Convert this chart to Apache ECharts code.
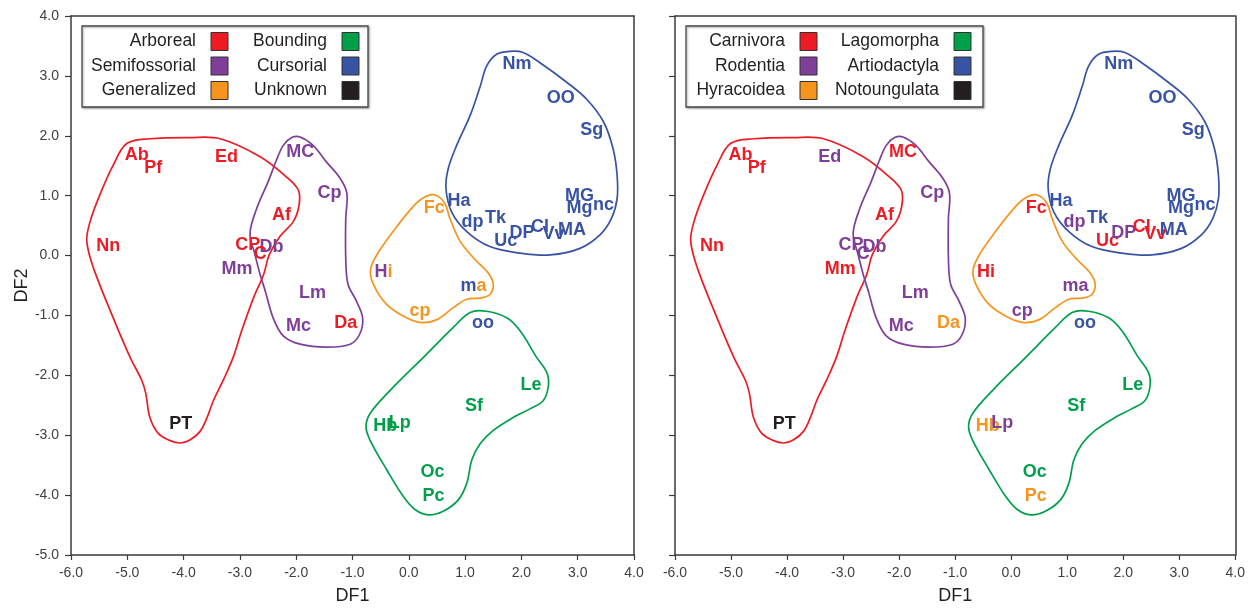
<!DOCTYPE html>
<html>
<head>
<meta charset="utf-8">
<script src="https://cdn.jsdelivr.net/npm/echarts@6/dist/echarts.min.js"></script>
<style>
  html, body { margin: 0; padding: 0; background: #ffffff; }
  #chart { width: 1248px; height: 610px; }
</style>
</head>
<body>
<div id="chart"></div>
<script>
// ---------- data ----------
const labels = ['Ab','Pf','Ed','MC','Cp','Af','Nn','CP','Db','C','Mm','Lm','Mc','Da','PT',
  'Nm','OO','Sg','MG','Mg','nc','Ha','Fc','dp','Tk','Uc','DP','Cl','Vv','MA',
  'Hi','ma','cp','oo','Le','Sf','Hb','Lp','Oc','Pc'];
const df1 = [-4.83,-4.54,-3.24,-1.93,-1.41,-2.26,-5.34,-2.86,-2.44,-2.64,-3.05,-1.71,-1.96,-1.12,-4.05,
  1.92,2.70,3.25,3.03,3.03,3.46,0.89,0.45,1.13,1.54,1.72,2.01,2.33,2.57,2.90,
  -0.45,1.15,0.20,1.32,2.17,1.16,-0.42,-0.16,0.42,0.44];
const df2 = [1.68,1.46,1.65,1.73,1.05,0.67,0.16,0.17,0.15,0.03,-0.22,-0.62,-1.17,-1.12,-2.81,
  3.19,2.63,2.10,1.00,0.79,0.84,0.91,0.80,0.56,0.62,0.24,0.37,0.48,0.36,0.43,
  -0.27,-0.51,-0.93,-1.12,-2.17,-2.52,-2.85,-2.79,-3.62,-4.02];
// colour group per label: left panel = locomotion, right panel = order ("a|b" = first letter a, rest b)
const locomotionGroup = [0,0,0,1,1,0,0,0,1,0,1,1,1,0,5,
  4,4,4,4,4,4,4,2,4,4,4,4,4,4,4,
  '1|2','4|2',2,4,3,3,3,3,3,3];
const orderGroup = [0,0,1,0,1,0,0,1,1,1,0,1,1,2,5,
  4,4,4,4,4,4,4,0,1,4,0,1,0,0,4,
  0,1,1,4,3,3,2,1,3,2];
const locomotionNames = ['Arboreal','Semifossorial','Generalized','Bounding','Cursorial','Unknown'];
const orderNames = ['Carnivora','Rodentia','Hyracoidea','Lagomorpha','Artiodactyla','Notoungulata'];
const palette = ['#ED1C24','#7F3F98','#F7941D','#00A04B','#3953A4','#231F20'];
const xRange = [-6, 4];
const yRange = [-5, 4];

// hull outlines (DF1, DF2)
const hullRed = [[-5.01,1.87],[-4.60,1.95],[-3.89,1.97],[-3.35,1.95],[-2.64,1.65],[-2.17,1.31],[-1.96,1.09],
  [-1.95,0.84],[-2.05,0.57],[-2.29,0.32],[-2.48,0.01],[-2.58,-0.32],[-2.76,-0.71],[-2.97,-1.26],[-3.12,-1.70],
  [-3.30,-2.09],[-3.47,-2.42],[-3.59,-2.72],[-3.71,-2.94],[-3.89,-3.08],[-4.06,-3.13],[-4.24,-3.09],[-4.45,-2.97],
  [-4.60,-2.70],[-4.67,-2.31],[-4.74,-2.09],[-4.95,-1.70],[-5.25,-1.04],[-5.60,-0.21],[-5.72,0.24],[-5.66,0.57],
  [-5.49,1.01],[-5.25,1.51]];
const hullPurple = [[-2.82,0.37],[-2.70,0.79],[-2.50,1.23],[-2.36,1.57],[-2.23,1.84],[-2.08,1.97],[-1.93,1.98],
  [-1.70,1.84],[-1.46,1.56],[-1.22,1.29],[-1.10,1.04],[-1.12,0.62],[-1.12,-0.04],[-1.08,-0.48],[-0.93,-0.76],
  [-0.82,-1.04],[-0.87,-1.31],[-1.04,-1.48],[-1.46,-1.53],[-1.93,-1.48],[-2.23,-1.34],[-2.41,-1.04],[-2.55,-0.59],
  [-2.64,-0.32],[-2.73,0.01]];
const hullOrange = [[0.47,1.01],[0.64,0.87],[0.73,0.62],[0.91,0.24],[1.15,-0.04],[1.41,-0.29],[1.50,-0.48],
  [1.44,-0.65],[1.27,-0.71],[1.03,-0.73],[0.79,-0.87],[0.50,-1.07],[0.23,-1.12],[-0.04,-1.04],[-0.39,-0.82],
  [-0.63,-0.48],[-0.68,-0.24],[-0.57,0.01],[-0.28,0.40],[0.08,0.82],[0.29,0.98]];
const hullBlue = [[1.56,3.36],[1.80,3.41],[2.03,3.39],[2.33,3.22],[2.81,2.89],[3.16,2.61],[3.46,2.23],
  [3.63,1.78],[3.70,1.34],[3.70,0.95],[3.60,0.62],[3.40,0.35],[3.04,0.12],[2.51,0.01],[1.98,0.04],[1.44,0.15],
  [1.03,0.40],[0.76,0.73],[0.66,1.12],[0.70,1.45],[0.85,1.84],[1.09,2.34],[1.27,2.83],[1.38,3.16]];
const hullGreen = [[1.38,-0.93],[1.74,-1.04],[1.98,-1.26],[2.27,-1.70],[2.45,-1.95],[2.48,-2.17],[2.39,-2.42],
  [2.15,-2.56],[1.86,-2.70],[1.50,-2.92],[1.27,-3.14],[1.12,-3.41],[1.03,-3.80],[0.88,-4.08],[0.61,-4.27],
  [0.35,-4.33],[0.11,-4.24],[-0.10,-4.02],[-0.39,-3.58],[-0.69,-3.08],[-0.76,-2.86],[-0.69,-2.64],[-0.33,-2.25],
  [0.26,-1.70],[0.79,-1.20],[1.09,-0.95]];
const hulls = [[hullRed,0],[hullPurple,1],[hullOrange,2],[hullBlue,4],[hullGreen,3]];

// ---------- chart ----------
const FONT = "'Liberation Sans', Arial, sans-serif";
const AXC = '#3a3a3a';
const chart = echarts.init(document.getElementById('chart'), null, {renderer: 'canvas'});

const rich = {};
palette.forEach((c, i) => {
  rich['g' + i] = {color: c, fontFamily: FONT, fontWeight: 'bold', fontSize: 18,
    textBorderWidth: 0, opacity: 1};
});

function labelText(name, grp) {
  const g = String(grp);
  if (g.indexOf('|') >= 0) {
    const [a, b] = g.split('|');
    return '{g' + a + '|' + name.charAt(0) + '}{g' + b + '|' + name.slice(1) + '}';
  }
  return '{g' + g + '|' + name + '}';
}

const grids = [
  {left: 71, top: 16, width: 563, height: 543},
  {left: 675, top: 16, width: 563, height: 543}
];

const xAxes = [], yAxes = [];
[0, 1].forEach(i => {
  xAxes.push({
    type: 'value', gridIndex: i, min: xRange[0], max: xRange[1], interval: 1,
    name: 'DF1', nameLocation: 'middle', nameGap: 32,
    nameTextStyle: {fontFamily: FONT, fontSize: 18, color: '#231F20'},
    axisLine: {show: true, onZero: false, lineStyle: {color: AXC, width: 1.5}},
    axisTick: {show: true, length: 5, lineStyle: {color: AXC, width: 1.2}},
    axisLabel: {fontFamily: FONT, fontSize: 14, color: '#404040', margin: 11,
      formatter: v => v.toFixed(1)},
    splitLine: {show: false}
  });
  xAxes.push({
    type: 'value', gridIndex: i, position: 'top', min: xRange[0], max: xRange[1],
    axisLine: {show: true, onZero: false, lineStyle: {color: AXC, width: 1.5}},
    axisTick: {show: false}, axisLabel: {show: false}, splitLine: {show: false}
  });
  yAxes.push({
    type: 'value', gridIndex: i, min: yRange[0], max: yRange[1], interval: 1,
    name: i === 0 ? 'DF2' : '', nameLocation: 'middle', nameGap: 40,
    nameTextStyle: {fontFamily: FONT, fontSize: 18, color: '#231F20'},
    axisLine: {show: true, onZero: false, lineStyle: {color: AXC, width: 1.5}},
    axisTick: {show: true, length: 6, lineStyle: {color: AXC, width: 1.2}},
    axisLabel: {show: i === 0, fontFamily: FONT, fontSize: 14, color: '#404040', margin: 12,
      formatter: v => v.toFixed(1)},
    splitLine: {show: false}
  });
  yAxes.push({
    type: 'value', gridIndex: i, position: 'right', min: yRange[0], max: yRange[1],
    axisLine: {show: true, onZero: false, lineStyle: {color: AXC, width: 1.5}},
    axisTick: {show: false}, axisLabel: {show: false}, splitLine: {show: false}
  });
});

const series = [];
[0, 1].forEach(i => {
  hulls.forEach(([pts, col]) => {
    series.push({
      type: 'custom', coordinateSystem: 'cartesian2d',
      xAxisIndex: i * 2, yAxisIndex: i * 2, silent: true, z: 2,
      data: [[pts[0][0], pts[0][1]]],
      renderItem: (params, api) => ({
        type: 'polygon',
        shape: {points: pts.map(p => api.coord(p)), smooth: 0.35},
        style: {fill: 'none', stroke: palette[col], lineWidth: 1.7}
      })
    });
  });
  const groups = i === 0 ? locomotionGroup : orderGroup;
  series.push({
    type: 'scatter', xAxisIndex: i * 2, yAxisIndex: i * 2, silent: true, z: 5,
    symbolSize: 1, itemStyle: {color: 'rgba(0,0,0,0)', opacity: 1},
    data: labels.map((n, k) => ({value: [df1[k], df2[k]], name: n, grp: groups[k]})),
    label: {
      show: true, position: 'inside', opacity: 1, textBorderWidth: 0,
      formatter: p => labelText(p.data.name, p.data.grp),
      rich: rich
    },
    emphasis: {disabled: true}
  });
});

// legends
function legendGraphics(names, boxLeft, boxWidth, col1Right, col2Right) {
  const els = [];
  els.push({type: 'rect', shape: {x: boxLeft, y: 26, width: boxWidth, height: 81},
    style: {fill: '#fff', stroke: '#4a4a4a', lineWidth: 1.3,
      shadowBlur: 2, shadowOffsetX: 1, shadowOffsetY: 1, shadowColor: 'rgba(0,0,0,0.35)'}, z: 10});
  const rowsY = [41.5, 66, 90.5];
  names.forEach((nm, k) => {
    const col = k < 3 ? 0 : 1;
    const row = k % 3;
    const tr = col === 0 ? col1Right : col2Right;
    els.push({type: 'text', x: tr, y: rowsY[row], z: 11,
      style: {text: nm, font: '17.5px ' + FONT, fill: '#231F20', align: 'right', verticalAlign: 'middle'}});
    els.push({type: 'rect', shape: {x: tr + 15, y: rowsY[row] - 9, width: 17, height: 18}, z: 11,
      style: {fill: palette[k], stroke: '#333', lineWidth: 1}});
  });
  return els;
}

chart.setOption({
  animation: false,
  backgroundColor: '#ffffff',
  grid: grids,
  xAxis: xAxes,
  yAxis: yAxes,
  series: series,
  graphic: legendGraphics(locomotionNames, 82, 286, 196, 327)
    .concat(legendGraphics(orderNames, 686, 297, 785, 939))
});
</script>
</body>
</html>
